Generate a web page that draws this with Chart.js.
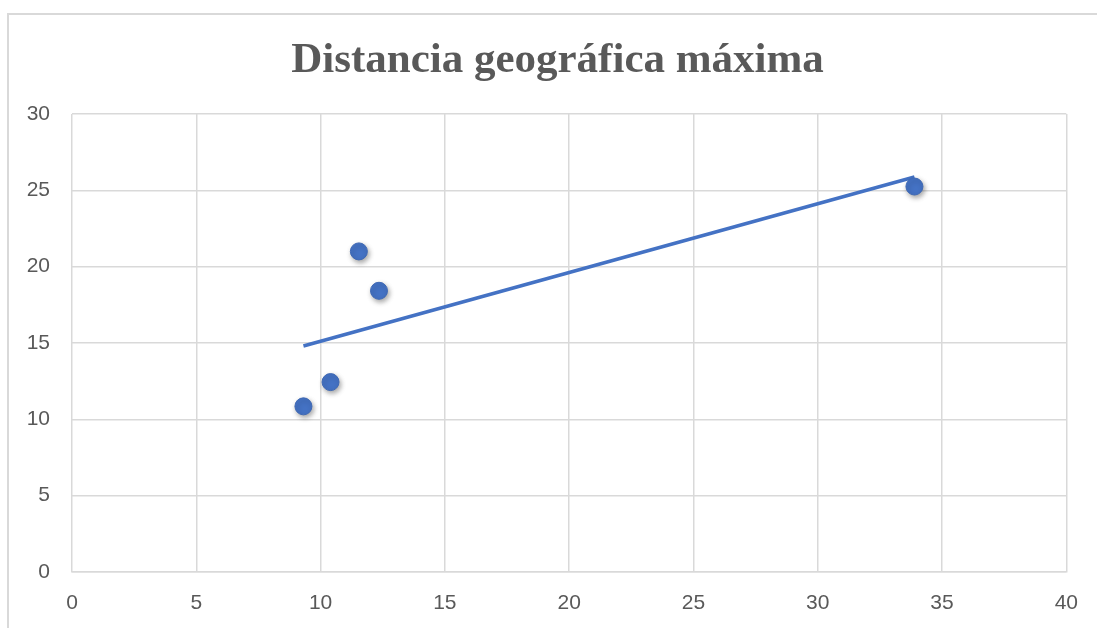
<!DOCTYPE html>
<html lang="es">
<head>
<meta charset="utf-8">
<title>Distancia geográfica máxima</title>
<script src="https://cdn.jsdelivr.net/npm/chart.js@4"></script>
<style>
  html, body { margin: 0; padding: 0; background: #ffffff; }
  #wrap { width: 1097px; height: 628px; }
</style>
</head>
<body>
<div id="wrap"><canvas id="chart" width="1097" height="628"></canvas></div>
<script>
// Observed values (x, y)
const xValues = [9.31, 10.40, 11.54, 12.35, 33.89];
const yValues = [10.85, 12.44, 21.0, 18.42, 25.25];

// Axis tick settings
const xTicks = [0, 5, 10, 15, 20, 25, 30, 35, 40];
const yTicks = [0, 5, 10, 15, 20, 25, 30];

const chartTitle = 'Distancia geográfica máxima';

// Linear least-squares trendline across the observed x range
function linearFit(xs, ys) {
  const n = xs.length;
  const mx = xs.reduce((a, b) => a + b, 0) / n;
  const my = ys.reduce((a, b) => a + b, 0) / n;
  let sxy = 0, sxx = 0;
  for (let i = 0; i < n; i++) {
    sxy += (xs[i] - mx) * (ys[i] - my);
    sxx += (xs[i] - mx) * (xs[i] - mx);
  }
  const slope = sxy / sxx;
  return { slope, intercept: my - slope * mx };
}
const fit = linearFit(xValues, yValues);
const xMin = Math.min(...xValues);
const xMax = Math.max(...xValues);
const trendPoints = [xMin, xMax].map(x => ({ x, y: fit.intercept + fit.slope * x }));

const points = xValues.map((x, i) => ({ x, y: yValues[i] }));

const GRID = '#d9d9d9';
const TEXT = '#595959';
const BLUE = '#4472C4';

// White background, the thin frame around the chart and the heading
const framePlugin = {
  id: 'frame',
  beforeDraw(chart) {
    const ctx = chart.ctx;
    ctx.save();
    ctx.fillStyle = '#ffffff';
    ctx.fillRect(0, 0, chart.width, chart.height);
    ctx.fillStyle = GRID;
    ctx.fillRect(7, 13, 2, chart.height - 13);
    ctx.fillRect(7, 13, chart.width - 7, 2);

    ctx.fillStyle = TEXT;
    ctx.font = 'bold 43px "Liberation Serif", "Times New Roman", serif';
    ctx.textAlign = 'center';
    ctx.textBaseline = 'alphabetic';
    ctx.fillText(chartTitle, 557.5, 72);
    ctx.restore();
  }
};

// Soft drop shadow under the markers
const shadowPlugin = {
  id: 'markerShadow',
  beforeDatasetDraw(chart, args) {
    if (args.index !== 0) return;
    const ctx = chart.ctx;
    ctx.save();
    ctx.shadowColor = 'rgba(0,0,0,0.35)';
    ctx.shadowBlur = 5;
    ctx.shadowOffsetX = 1.5;
    ctx.shadowOffsetY = 2.5;
  },
  afterDatasetDraw(chart, args) {
    if (args.index !== 0) return;
    chart.ctx.restore();
  }
};

new Chart(document.getElementById('chart'), {
  type: 'scatter',
  data: {
    datasets: [
      {
        label: 'Distancia geográfica máxima',
        data: points,
        backgroundColor: BLUE,
        borderColor: '#3f69b5',
        borderWidth: 1,
        pointRadius: 8.5,
        pointHoverRadius: 8.5
      },
      {
        type: 'line',
        label: 'Lineal',
        data: trendPoints,
        borderColor: BLUE,
        borderWidth: 3.5,
        pointRadius: 0,
        fill: false,
        tension: 0
      }
    ]
  },
  options: {
    responsive: false,
    animation: false,
    events: [],
    layout: { padding: { left: 0, right: 29, top: 114, bottom: 0 } },
    plugins: {
      legend: { display: false },
      tooltip: { enabled: false },
      title: { display: false }
    },
    scales: {
      x: {
        type: 'linear',
        min: 0,
        max: 40,
        afterBuildTicks(axis) { axis.ticks = xTicks.map(v => ({ value: v })); },
        afterFit(axis) { axis.height = 56; },
        grid: { color: GRID, lineWidth: 1.5, drawTicks: false },
        border: { color: GRID, width: 1.5 },
        ticks: {
          color: TEXT,
          padding: 19,
          maxRotation: 0,
          font: { family: '"Liberation Sans", Arial, sans-serif', size: 21 }
        }
      },
      y: {
        type: 'linear',
        min: 0,
        max: 30,
        afterBuildTicks(axis) { axis.ticks = yTicks.map(v => ({ value: v })); },
        afterFit(axis) { axis.width = 72; },
        grid: { color: GRID, lineWidth: 1.5, drawTicks: false },
        border: { display: false },
        ticks: {
          color: TEXT,
          padding: 22,
          font: { family: '"Liberation Sans", Arial, sans-serif', size: 21 }
        }
      }
    }
  },
  plugins: [framePlugin, shadowPlugin]
});
</script>
</body>
</html>
